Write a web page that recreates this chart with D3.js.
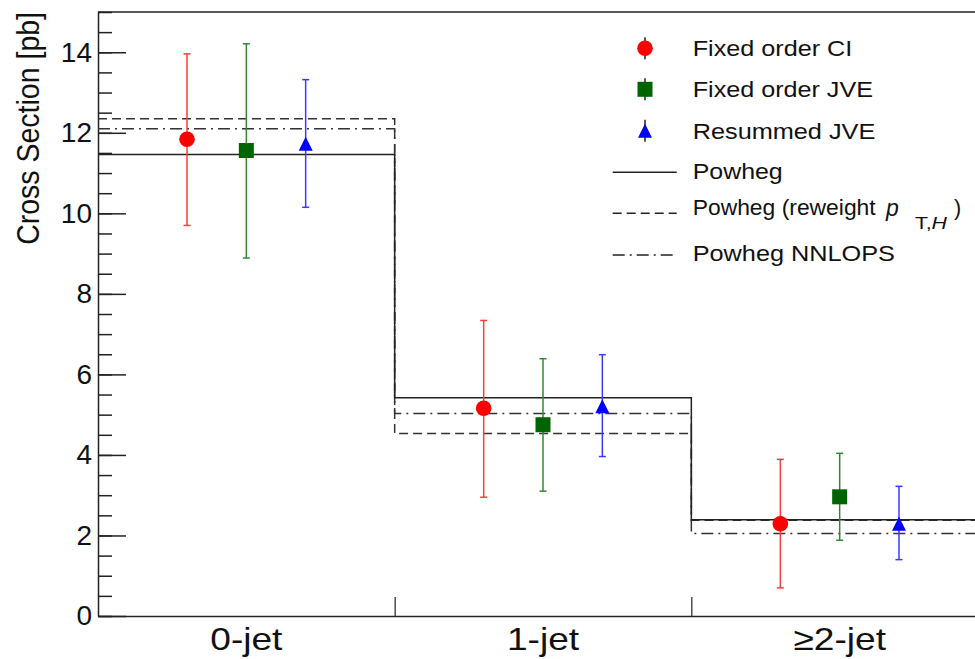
<!DOCTYPE html>
<html>
<head>
<meta charset="utf-8">
<script src="https://cdn.jsdelivr.net/npm/d3@7"></script>
<style>
  body { margin: 0; background: #fff; }
  svg { display: block; font-family: "Liberation Sans", Arial, Helvetica, sans-serif; }
</style>
</head>
<body>
<div id="chart"></div>
<script>
// Data
const categories = ["0-jet", "1-jet", "\u22652-jet"];
const yTicks = [0, 2, 4, 6, 8, 10, 12, 14];

const fixedCI    = [11.84, 5.16, 2.29];
const fixedCIUp  = [13.96, 7.34, 3.89];
const fixedCILo  = [9.70, 2.95, 0.70];

const fixedJVE   = [11.56, 4.75, 2.96];
const fixedJVEUp = [14.21, 6.39, 4.04];
const fixedJVELo = [8.89, 3.10, 1.88];

const resumJVE   = [11.73, 5.21, 2.29];
const resumJVEUp = [13.32, 6.49, 3.22];
const resumJVELo = [10.15, 3.96, 1.40];

const powheg     = [11.46, 5.42, 2.39];
const powhegRw   = [12.35, 4.53, 2.38];
const powhegNN   = [12.10, 5.03, 2.05];

const W = 975, H = 659;
const margin = { top: 12, left: 98, bottom: 43 };
const plotRight = 988; // frame continues past the window edge

const svg = d3.select("#chart").append("svg")
    .attr("width", W)
    .attr("height", H);

const x = d3.scaleLinear().domain([0, 3]).range([margin.left, plotRight]);
const y = d3.scaleLinear().domain([0, 15]).range([H - margin.bottom, margin.top]);

// Frame top line
svg.append("line")
    .attr("x1", x(0)).attr("x2", x(3))
    .attr("y1", y(15)).attr("y2", y(15))
    .attr("stroke", "#222").attr("stroke-width", 1.5);

// Minor y ticks
svg.append("g")
    .attr("transform", `translate(${x(0)},0)`)
    .call(d3.axisLeft(y).tickValues(d3.range(0, 15.01, 0.5)).tickSize(-14).tickSizeOuter(0).tickFormat(""))
    .call(g => g.select(".domain").remove())
    .call(g => g.selectAll("line").attr("stroke", "#222").attr("stroke-width", 1.5));

// Major y axis
svg.append("g")
    .attr("transform", `translate(${x(0)},0)`)
    .call(d3.axisLeft(y).tickValues(yTicks).tickSize(-28).tickSizeOuter(0).tickPadding(6))
    .call(g => g.select(".domain").attr("stroke", "#222").attr("stroke-width", 1.5))
    .call(g => g.selectAll("line").attr("stroke", "#222").attr("stroke-width", 1.5))
    .call(g => g.selectAll("text")
        .attr("font-family", "Liberation Sans, Arial, sans-serif")
        .attr("font-size", 28).attr("fill", "#111"));

// X axis (bin edges)
svg.append("g")
    .attr("transform", `translate(0,${y(0)})`)
    .call(d3.axisBottom(x).tickValues([1, 2]).tickSize(-19).tickSizeOuter(0).tickFormat(""))
    .call(g => g.select(".domain").attr("stroke", "#222").attr("stroke-width", 1.5))
    .call(g => g.selectAll("line").attr("stroke", "#222").attr("stroke-width", 1.2));

// Category labels
categories.forEach((c, i) => {
    svg.append("g")
        .attr("transform", `translate(${x(i + 0.5)},650) scale(1.16,1)`)
        .append("text")
        .attr("text-anchor", "middle")
        .attr("font-size", 32)
        .attr("fill", "#111")
        .text(c);
});

// Y axis title
svg.append("g")
    .attr("transform", "translate(39,12) scale(1.08,1)")
    .append("text")
    .attr("transform", "rotate(-90)")
    .attr("text-anchor", "end")
    .attr("font-size", 28.5)
    .attr("fill", "#111")
    .text("Cross Section [pb]");

// Histograms (step lines)
const step = d3.line()
    .x(d => x(d[0]))
    .y(d => y(d[1]))
    .curve(d3.curveStepAfter);

function stepData(vals) {
    const pts = vals.map((v, i) => [i, v]);
    pts.push([vals.length, vals[vals.length - 1]]);
    return pts;
}

const hists = [
    { vals: powhegNN, dash: "12,5,2,5" },
    { vals: powhegRw, dash: "9,5" },
    { vals: powheg, dash: null }
];

hists.forEach(h => {
    svg.append("path")
        .attr("d", step(stepData(h.vals)))
        .attr("fill", "none")
        .attr("stroke", h.dash ? "#333" : "#222")
        .attr("stroke-width", 1.5)
        .attr("stroke-dasharray", h.dash);
});

// Data points with error bars
const series = [
    { vals: fixedCI, up: fixedCIUp, lo: fixedCILo, off: 0.3, color: "#ff0000", bar: "#ff3b3b", shape: "circle" },
    { vals: fixedJVE, up: fixedJVEUp, lo: fixedJVELo, off: 0.5, color: "#006400", bar: "#2f8a2f", shape: "square" },
    { vals: resumJVE, up: resumJVEUp, lo: resumJVELo, off: 0.7, color: "#0000ff", bar: "#3a3aff", shape: "triangle" }
];

function drawMarker(g, shape, color) {
    if (shape === "circle") {
        g.append("circle").attr("r", 7.8).attr("fill", color);
    } else if (shape === "square") {
        g.append("rect").attr("x", -7.5).attr("y", -7.5)
            .attr("width", 15).attr("height", 15).attr("fill", color);
    } else {
        g.append("path").attr("d", "M0,-7L7,7L-7,7Z").attr("fill", color);
    }
}

series.forEach(s => {
    const g = svg.append("g");
    s.vals.forEach((v, i) => {
        const cx = x(i + s.off);
        g.append("line")
            .attr("x1", cx).attr("x2", cx)
            .attr("y1", y(s.up[i])).attr("y2", y(s.lo[i]))
            .attr("stroke", s.bar).attr("stroke-width", 1.5);
        [s.up[i], s.lo[i]].forEach(e => {
            g.append("line")
                .attr("x1", cx - 3.5).attr("x2", cx + 3.5)
                .attr("y1", y(e)).attr("y2", y(e))
                .attr("stroke", s.bar).attr("stroke-width", 1.5);
        });
        drawMarker(g.append("g").attr("transform", `translate(${cx},${y(v)})`), s.shape, s.color);
    });
});

// Legend
const legMarkers = [
    { label: "Fixed order CI", y: 48.3, base: 56, w: 159.6, shape: "circle", color: "#ff0000" },
    { label: "Fixed order JVE", y: 89.3, base: 97.3, w: 180.3, shape: "square", color: "#006400" },
    { label: "Resummed JVE", y: 130.7, base: 139, w: 182.6, shape: "triangle", color: "#0000ff" }
];

const leg = svg.append("g");
const legX = 645, legTextX = 692.7;

legMarkers.forEach(m => {
    leg.append("line")
        .attr("x1", legX).attr("x2", legX)
        .attr("y1", m.y - 11).attr("y2", m.y + 11)
        .attr("stroke", "#222").attr("stroke-width", 1.5);
    drawMarker(leg.append("g").attr("transform", `translate(${legX},${m.y})`), m.shape, m.color);
    leg.append("text")
        .attr("x", legTextX).attr("y", m.base)
        .attr("font-size", 21.5).attr("fill", "#111")
        .attr("textLength", m.w).attr("lengthAdjust", "spacingAndGlyphs")
        .text(m.label);
});

const legLines = [
    { y: 172.3, dash: null },
    { y: 213.3, dash: "9,5" },
    { y: 255, dash: "12,5,2,5" }
];
legLines.forEach(l => {
    leg.append("line")
        .attr("x1", 612.7).attr("x2", 676.7)
        .attr("y1", l.y).attr("y2", l.y)
        .attr("stroke", "#222").attr("stroke-width", 1.5)
        .attr("stroke-dasharray", l.dash);
});

leg.append("text")
    .attr("x", legTextX).attr("y", 179.3)
    .attr("font-size", 21.5).attr("fill", "#111")
    .attr("textLength", 90).attr("lengthAdjust", "spacingAndGlyphs")
    .text("Powheg");

leg.append("text")
    .attr("x", legTextX).attr("y", 215)
    .attr("font-size", 21.5).attr("fill", "#111")
    .attr("textLength", 183).attr("lengthAdjust", "spacingAndGlyphs")
    .text("Powheg (reweight");

leg.append("text")
    .attr("x", 886).attr("y", 216)
    .attr("font-size", 23).attr("font-style", "italic").attr("fill", "#111")
    .text("p");

const sub = leg.append("text")
    .attr("x", 915).attr("y", 228.5)
    .attr("font-size", 17).attr("fill", "#111")
    .attr("textLength", 32).attr("lengthAdjust", "spacingAndGlyphs");
sub.append("tspan").text("T,");
sub.append("tspan").attr("font-style", "italic").text("H");

leg.append("text")
    .attr("x", 954).attr("y", 215)
    .attr("font-size", 21.5).attr("fill", "#111")
    .text(")");

leg.append("text")
    .attr("x", legTextX).attr("y", 260.7)
    .attr("font-size", 21.5).attr("fill", "#111")
    .attr("textLength", 202.3).attr("lengthAdjust", "spacingAndGlyphs")
    .text("Powheg NNLOPS");
</script>
</body>
</html>
